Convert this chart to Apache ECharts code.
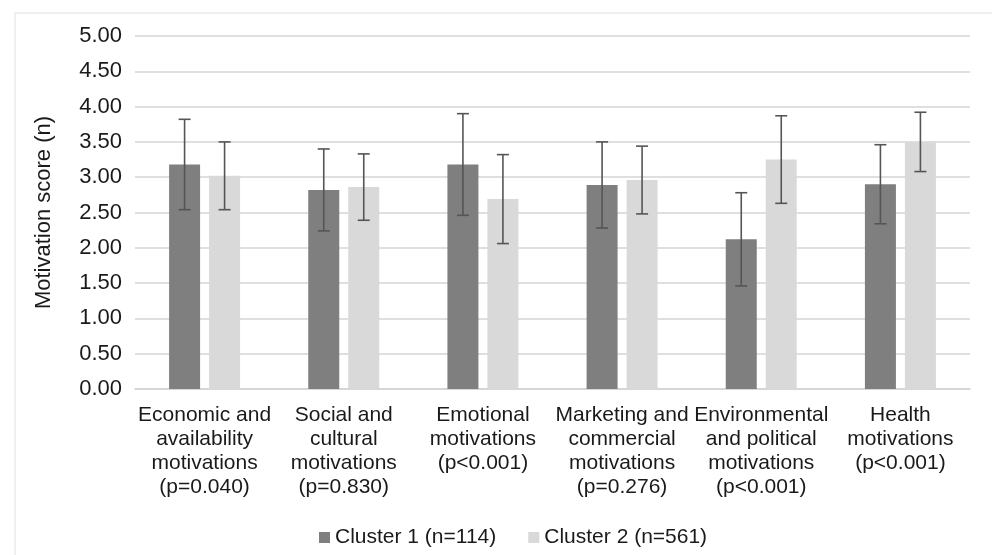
<!DOCTYPE html>
<html>
<head>
<meta charset="utf-8">
<script src="https://cdn.jsdelivr.net/npm/echarts@6/dist/echarts.min.js"></script>
<style>
    html, body { margin: 0; padding: 0; background: #fff; }
    #chart { width: 992px; height: 555px; }
</style>
</head>
<body>
<div id="chart"></div>
<script>
var categories = [
    'Economic and\navailability\nmotivations\n(p=0.040)',
    'Social and\ncultural\nmotivations\n(p=0.830)',
    'Emotional\nmotivations\n(p<0.001)',
    'Marketing and\ncommercial\nmotivations\n(p=0.276)',
    'Environmental\nand political\nmotivations\n(p<0.001)',
    'Health\nmotivations\n(p<0.001)'
];
var seriesNames = ['Cluster 1 (n=114)', 'Cluster 2 (n=561)'];
var cluster1Mean = [3.18, 2.82, 3.18, 2.89, 2.12, 2.90];
var cluster1Sd = [0.64, 0.58, 0.72, 0.61, 0.66, 0.56];
var cluster2Mean = [3.02, 2.86, 2.69, 2.96, 3.25, 3.50];
var cluster2Sd = [0.48, 0.47, 0.63, 0.48, 0.62, 0.42];
var yTicks = [0, 0.5, 1, 1.5, 2, 2.5, 3, 3.5, 4, 4.5, 5];

var font = '"Liberation Sans", Arial, sans-serif';
var barW = 31;
var barGapPx = 9;

var chart = echarts.init(document.getElementById('chart'));

// error bars drawn with a custom series, shifted to sit on each bar
function errorSeries(name, mean, sd, shift) {
    var data = mean.map(function (m, i) {
        return [i, m - sd[i], m + sd[i]];
    });
    return {
        name: name,
        type: 'custom',
        z: 10,
        silent: true,
        data: data,
        renderItem: function (params, api) {
            var lo = api.coord([api.value(0), api.value(1)]);
            var hi = api.coord([api.value(0), api.value(2)]);
            var x = lo[0] + shift;
            var cap = 6;
            var style = { stroke: '#555', lineWidth: 1.6 };
            return {
                type: 'group',
                children: [
                    { type: 'line', shape: { x1: x, y1: hi[1], x2: x, y2: lo[1] }, style: style },
                    { type: 'line', shape: { x1: x - cap, y1: hi[1], x2: x + cap, y2: hi[1] }, style: style },
                    { type: 'line', shape: { x1: x - cap, y1: lo[1], x2: x + cap, y2: lo[1] }, style: style }
                ]
            };
        }
    };
}

var half = (barW + barGapPx) / 2;

var option = {
    backgroundColor: '#fff',
    animation: false,
    textStyle: { fontFamily: font },
    graphic: [{
        type: 'rect',
        shape: { x: 15, y: 13, width: 1000, height: 600 },
        style: { fill: 'none', stroke: '#ebebeb', lineWidth: 1.5 }
    }],
    grid: { left: 135, right: 22, top: 36, bottom: 166 },
    legend: {
        data: seriesNames,
        left: 314,
        top: 522,
        icon: 'rect',
        itemWidth: 11,
        itemHeight: 11,
        itemGap: 32,
        textStyle: { fontSize: 21, color: '#1a1a1a', fontFamily: font }
    },
    xAxis: {
        type: 'category',
        data: categories,
        axisLine: { lineStyle: { color: '#d4d4d4', width: 1.5 } },
        axisTick: { show: false },
        axisLabel: {
            interval: 0,
            fontSize: 21,
            lineHeight: 24,
            color: '#1a1a1a',
            margin: 14,
            fontFamily: font
        }
    },
    yAxis: {
        type: 'value',
        min: 0,
        max: 5,
        interval: 0.5,
        name: 'Motivation score (n)',
        nameLocation: 'middle',
        nameGap: 80,
        nameTextStyle: { fontSize: 22, color: '#1a1a1a', fontFamily: font },
        axisLine: { show: false },
        axisTick: { show: false },
        splitLine: { lineStyle: { color: '#d4d4d4', width: 1.5 } },
        axisLabel: {
            fontSize: 22,
            color: '#1a1a1a',
            margin: 13,
            fontFamily: font,
            formatter: function (v) { return v.toFixed(2); }
        }
    },
    series: [
        {
            name: seriesNames[0],
            type: 'bar',
            data: cluster1Mean,
            barWidth: barW,
            barGap: (barGapPx / barW * 100).toFixed(0) + '%',
            itemStyle: { color: '#7f7f7f' }
        },
        {
            name: seriesNames[1],
            type: 'bar',
            data: cluster2Mean,
            barWidth: barW,
            itemStyle: { color: '#d9d9d9' }
        },
        errorSeries('err1', cluster1Mean, cluster1Sd, -half),
        errorSeries('err2', cluster2Mean, cluster2Sd, half)
    ]
};

chart.setOption(option);
</script>
</body>
</html>
